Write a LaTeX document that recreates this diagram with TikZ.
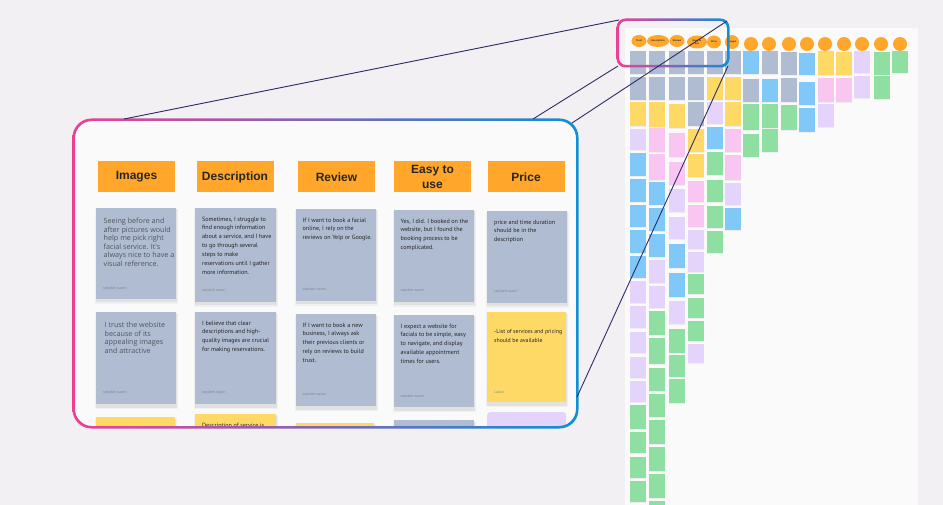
\documentclass[tikz,border=0pt]{standalone}
\usepackage{fontspec}
\setmainfont{Liberation Sans}
\newfontfamily\hdfont{Liberation Sans}
\newfontfamily\cardfont{PT Sans}
\newfontfamily\softfont{Open Sans}
\usetikzlibrary{shapes.geometric}
\definecolor{bg}{HTML}{F2F0F2}
\definecolor{boardc}{HTML}{FAFAFA}
\definecolor{hdr}{HTML}{FFA62B}
\definecolor{gr}{HTML}{AFBCD1}
\definecolor{ye}{HTML}{FFD966}
\definecolor{la}{HTML}{E4D3FA}
\definecolor{pk}{HTML}{F9C5F1}
\definecolor{bl}{HTML}{80C8F8}
\definecolor{gn}{HTML}{8EDFA1}
\definecolor{navy}{HTML}{2C2E66}
\definecolor{mpink}{HTML}{EE3F94}
\definecolor{mpurp}{HTML}{7A4DA0}
\definecolor{mblue}{HTML}{0E8FD8}
\definecolor{txt}{HTML}{262626}
\definecolor{softtxt}{HTML}{50565F}
\definecolor{authc}{HTML}{7F8794}
\newcommand\mkcard[6]{%
  \fill[black, opacity=0.04] (#2-1.5,#3+1) rectangle ++(#4+3,#5+4);
  \fill[black, opacity=0.06] (#2-0.5,#3+1.5) rectangle ++(#4+1,#5+2);
  \node[bigcard=#6, minimum width=#4pt, minimum height=#5pt] (#1) at (#2,#3) {};}
\begin{document}
\begin{tikzpicture}[x=1pt,y=-1pt,
  bighdr/.style={fill=hdr, minimum width=77pt, minimum height=31pt, inner sep=0pt,
    font=\hdfont\bfseries\fontsize{12}{14.5}\selectfont, text=txt, align=center},
  bigcard/.style={fill=#1, inner sep=0pt, anchor=north west},
  ctxt/.style={anchor=north west, inner sep=0pt, align=left, text=txt,
    font=\cardfont\fontsize{6.1}{8.9}\selectfont},
  stxt/.style={anchor=north west, inner sep=0pt, align=left, text=softtxt,
    font=\softfont\fontsize{7.2}{8.5}\selectfont},
  auth/.style={anchor=west, inner sep=0pt, text=authc,
    font=\cardfont\fontsize{3.8}{4}\selectfont},
  bhdr/.style={ellipse, fill=hdr, inner sep=0pt, align=center, text=txt,
    font=\hdfont\bfseries\fontsize{2.4}{2.8}\selectfont},
  zline/.style={draw=navy, line width=0.9pt}
]
\useasboundingbox (0,0) rectangle (943,505);
\fill[bg] (0,0) rectangle (943,505);
% ---------------- board ----------------
\fill[boardc] (625,28) rectangle (918,505);
\foreach \cx/\items in {
 630/{51/23/gr,77/23/gr,102/24/ye,129/21/la,153/23/bl,179/23/bl,205/22/bl,230/23/bl,256/22/bl,281/22/la,306/22/la,332/21/la,357/21/la,381/21/la,405/24/gn,432/21/gn,457/21/gn,481/21/gn,505/10/gn},
 649/{51/23/gr,77/23/gr,102/25/ye,128/24/pk,154/26/pk,182/23/bl,208/23/bl,234/23/bl,260/23/la,286/22/la,311/24/gn,338/26/gn,368/23/gn,394/23/gn,420/24/gn,447/24/gn,474/24/gn,501/10/gn},
 669/{51/23/gr,77/23/gr,104/24/ye,133/24/pk,162/23/pk,189/23/la,217/22/la,244/24/bl,273/24/bl,301/23/la,329/24/gn,355/22/gn,379/24/gn},
 688/{51/23/gr,77/23/gr,102/24/gr,129/23/ye,154/23/ye,181/21/pk,205/22/pk,230/19/la,252/20/la,274/20/gn,298/20/gn,321/20/gn,344/19/la},
 707/{51/23/gr,77/23/ye,102/22/la,127/22/bl,152/23/gn,180/22/gn,206/22/gn,231/22/gn},
 725/{51/23/gr,77/23/ye,102/24/ye,129/23/pk,155/25/pk,183/22/la,208/22/bl},
 743/{51/23/bl,79/23/gr,104/26/gn,134/23/gn},
 762/{51/23/gr,79/23/bl,104/24/gn,129/23/gn},
 781/{52/23/gr,78/24/gr,105/25/gn},
 799/{53/22/bl,82/23/bl,108/24/bl},
 818/{51/24/ye,78/24/pk,104/23/la},
 836/{52/23/ye,78/24/pk},
 854/{51/22/la,76/22/la},
 874/{52/23/gn,76/23/gn},
 892/{51/22/gn}}{
  \foreach \yy/\hh/\cc in \items {
    \fill[black!7] (\cx+0.4,\yy+0.8) rectangle ++(15.5,\hh);
    \fill[\cc] (\cx,\yy) rectangle ++(15.5,\hh);
  }
}
\node[bhdr, minimum width=15pt, minimum height=12pt] (h1) at (639,41) {Trust};
\node[bhdr, minimum width=22pt, minimum height=12pt] (h2) at (658,41) {Description};
\node[bhdr, minimum width=15pt, minimum height=12pt] (h3) at (677,41) {Review};
\node[bhdr, minimum width=20pt, minimum height=13pt] (h4) at (697,42) {Easy to\\use};
\node[bhdr, minimum width=14pt, minimum height=13pt] (h5) at (714,42) {Price};
\node[bhdr, minimum width=14pt, minimum height=14pt] (h6) at (732,42) {Images};
\foreach \i/\hx in {7/751,8/769,9/789,10/807,11/825,12/844,13/862,14/881,15/900}{
  \node[bhdr, minimum width=14pt, minimum height=14pt] (h\i) at (\hx,44) {};
}
% ---------------- magnified box ----------------
\begin{scope}
\clip[rounded corners=17pt] (74,120) rectangle (577,427);
\fill[boardc] (70,115) rectangle (580,430);
\node[bighdr] (H1) at (136.5,177) {Images};
\node[bighdr] (H2) at (235,177) {Description};
\node[bighdr] (H3) at (336.5,177) {Review};
\node[bighdr] (H4) at (432.5,177) {Easy to\\use};
\node[bighdr] (H5) at (526,177) {Price};
% row 1
\mkcard{c11}{96}{208}{80}{91}{gr}
\mkcard{c12}{195}{208}{81}{94}{gr}
\mkcard{c13}{296}{209}{80}{92}{gr}
\mkcard{c14}{394}{210}{80}{92}{gr}
\mkcard{c15}{487}{211}{80}{92}{gr}
% row 2
\mkcard{c21}{96}{312}{80}{92}{gr}
\mkcard{c22}{195}{312}{81}{92}{gr}
\mkcard{c23}{296}{314}{80}{92}{gr}
\mkcard{c24}{394}{315}{80}{92}{gr}
\mkcard{c25}{487}{312}{79}{90}{ye}
% row 3
\mkcard{c31}{96}{417}{79}{40}{ye}
\mkcard{c32}{195}{414}{81}{40}{ye}
\mkcard{c33}{296}{423}{78}{40}{ye}
\mkcard{c34}{394}{420}{80}{40}{gr}
\node[bigcard=la, minimum width=79pt, minimum height=40pt, rounded corners=3pt] (c35) at (487,412) {};
% texts
\node[stxt] (t11) at (103.5,218) {Seeing before and\\after pictures would\\help me pick right\\facial service. It's\\always nice to have a\\visual reference.};
\node[ctxt] (t12) at (202,216.5) {Sometimes, I struggle to\\find enough information\\about a service, and I have\\to go through several\\steps to make\\reservations until I gather\\more information.};
\node[ctxt] (t13) at (302.5,217.5) {If I want to book a facial\\online, I rely on the\\reviews on Yelp or Google.};
\node[ctxt] (t14) at (400.5,218.5) {Yes, I did. I booked on the\\website, but I found the\\booking process to be\\complicated.};
\node[ctxt] (t15) at (494,219.5) {price and time duration\\should be in the\\description};
\node[stxt] (t21) at (104.5,322) {I trust the website\\because of its\\appealing images\\and attractive};
\node[ctxt] (t22) at (202,320.5) {I believe that clear\\descriptions and high-\\quality images are crucial\\for making reservations.};
\node[ctxt] (t23) at (302.5,322.5) {If I want to book a new\\business, I always ask\\their previous clients or\\rely on reviews to build\\trust.};
\node[ctxt] (t24) at (400.5,323.5) {I expect a website for\\facials to be simple, easy\\to navigate, and display\\available appointment\\times for users.};
\node[ctxt, font=\cardfont\fontsize{5.8}{8.3}\selectfont] (t25) at (494,329.5) {-List of services and pricing\\should be available};
\node[ctxt] (t32) at (202,422.5) {Description of service is};
% authors
\node[auth] (a11) at (103,288.7) {sepideh naseri};
\node[auth] (a12) at (202,291) {sepideh naseri};
\node[auth] (a13) at (302.5,290) {sepideh naseri};
\node[auth] (a14) at (400.5,291) {sepideh naseri};
\node[auth] (a15) at (494,292) {sepideh naseri};
\node[auth] (a21) at (103,393) {sepideh naseri};
\node[auth] (a22) at (202,393) {sepideh naseri};
\node[auth] (a23) at (302.5,395) {sepideh naseri};
\node[auth] (a24) at (400.5,396.3) {sepideh naseri};
\node[auth, text=black!45] (a25) at (494,391.7) {Ladan};
\end{scope}
\shade[even odd rule, left color=mpink, middle color=mpurp, right color=mblue]
  [rounded corners=19pt] (72.5,118.5) rectangle (578.5,428.5)
  [rounded corners=17pt] (75,121) rectangle (576,426);
% small frame
\shade[even odd rule, left color=mpink, middle color=mpurp, right color=mblue]
  [rounded corners=9pt] (616.5,18.5) rectangle (729.5,67.5)
  [rounded corners=7pt] (619,21) rectangle (727,65);
% ---------------- zoom connectors ----------------
\coordinate (bA) at (124,119);
\coordinate (bB) at (533,119);
\coordinate (bC) at (572,123);
\coordinate (bD) at (577,397);
\coordinate (sA) at (619,20);
\coordinate (sB) at (618,66);
\coordinate (sC) at (727,21);
\coordinate (sD) at (728,66);
\draw[zline] (bA) -- (sA);
\draw[zline] (bB) -- (sB);
\draw[zline] (bC) -- (sC);
\draw[zline] (bD) -- (sD);
\end{tikzpicture}
\end{document}
